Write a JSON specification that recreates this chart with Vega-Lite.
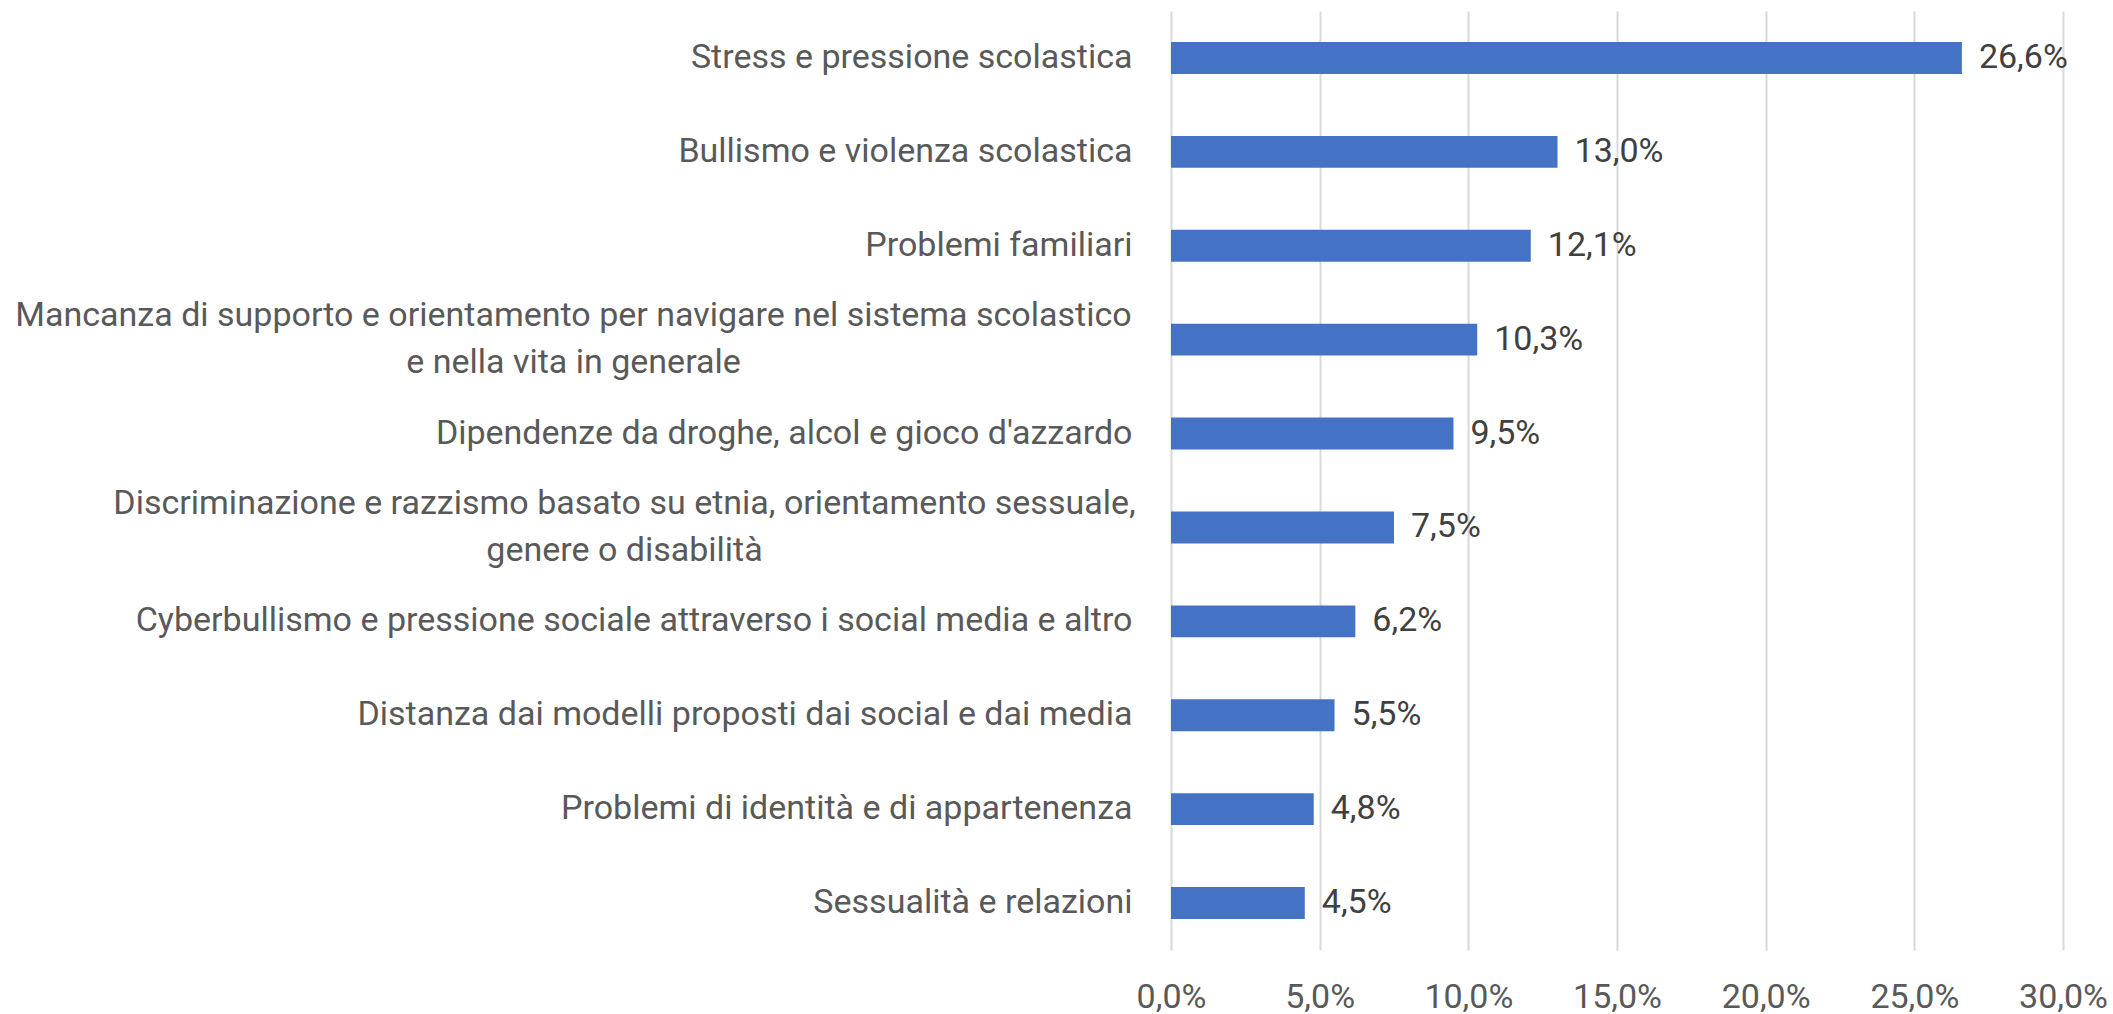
{
  "$schema": "https://vega.github.io/schema/vega-lite/v6.json",
  "width": 892,
  "height": 939,
  "autosize": "none",
  "padding": {"left": 1171, "top": 11, "right": 50, "bottom": 64},
  "config": {
    "locale": {"number": {"decimal": ",", "thousands": ".", "grouping": [3], "currency": ["€", ""]}},
    "view": {"stroke": null},
    "font": "Roboto"
  },
  "data": {
    "values": [
      {"categoria": "Stress e pressione scolastica", "valore": 0.266},
      {"categoria": "Bullismo e violenza scolastica", "valore": 0.130},
      {"categoria": "Problemi familiari", "valore": 0.121},
      {"categoria": "Mancanza di supporto e orientamento per navigare nel sistema scolastico\ne nella vita in generale", "valore": 0.103},
      {"categoria": "Dipendenze da droghe, alcol e gioco d'azzardo", "valore": 0.095},
      {"categoria": "Discriminazione e razzismo basato su etnia, orientamento sessuale,\ngenere o disabilità", "valore": 0.075},
      {"categoria": "Cyberbullismo e pressione sociale attraverso i social media e altro", "valore": 0.062},
      {"categoria": "Distanza dai modelli proposti dai social e dai media", "valore": 0.055},
      {"categoria": "Problemi di identità e di appartenenza", "valore": 0.048},
      {"categoria": "Sessualità e relazioni", "valore": 0.045}
    ]
  },
  "encoding": {
    "y": {
      "field": "categoria",
      "type": "nominal",
      "sort": "-x",
      "scale": {"paddingInner": 0.66, "paddingOuter": 0.33},
      "axis": {
        "title": null,
        "domain": false,
        "ticks": false,
        "labelFont": "Roboto",
        "labelFontSize": 34,
        "labelColor": "#595959",
        "labelLimit": 0,
        "labelLineHeight": 47,
        "labelBaseline": "middle",
        "labelExpr": "split(datum.label, '\\n')",
        "labelAlign": {"condition": {"test": "indexof(datum.value, '\\n') >= 0", "value": "center"}, "value": "right"},
        "labelOffset": {"condition": {"test": "indexof(datum.value, '\\n') >= 0", "value": -23.5}, "value": 0},
        "labelPadding": {"condition": [
          {"test": "indexof(datum.value, 'Mancanza') == 0", "value": 598},
          {"test": "indexof(datum.value, 'Discriminazione') == 0", "value": 547}
        ], "value": 39}
      }
    },
    "x": {
      "field": "valore",
      "type": "quantitative",
      "scale": {"domain": [0, 0.3], "nice": false},
      "axis": {
        "title": null,
        "values": [0, 0.05, 0.1, 0.15, 0.2, 0.25, 0.3],
        "format": ".1%",
        "grid": true,
        "gridColor": "#d9d9d9",
        "gridWidth": 2,
        "domain": false,
        "ticks": false,
        "labelFont": "Roboto",
        "labelFontSize": 34,
        "labelColor": "#595959",
        "labelPadding": 30,
        "labelFlush": false,
        "labelOverlap": false
      }
    }
  },
  "layer": [
    {"mark": {"type": "bar", "color": "#4472C4"}},
    {
      "mark": {"type": "text", "align": "left", "baseline": "middle", "dx": 17, "fontSize": 34, "font": "Roboto", "color": "#404040"},
      "encoding": {"text": {"field": "valore", "type": "quantitative", "format": ".1%"}}
    }
  ]
}
